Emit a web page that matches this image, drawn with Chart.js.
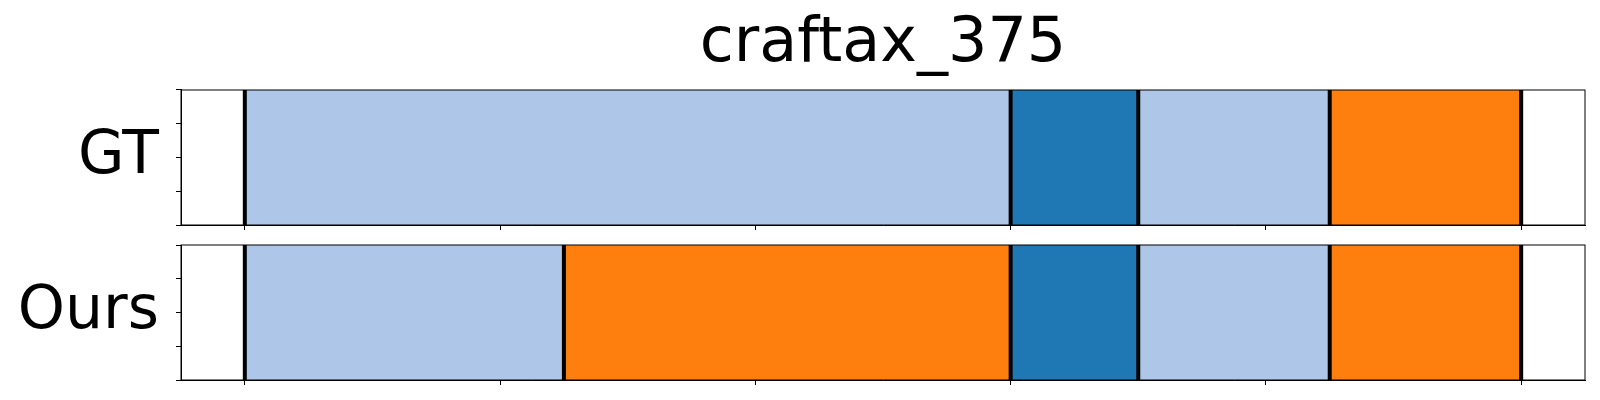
<!DOCTYPE html>
<html>
<head>
<meta charset="utf-8">
<script src="https://cdn.jsdelivr.net/npm/chart.js@4/dist/chart.umd.min.js"></script>
<style>
  body { margin: 0; background: #fff; }
  .row { position: relative; width: 1600px; }
</style>
</head>
<body>
<div class="row" style="height:240px"><canvas id="gt-chart"></canvas></div>
<div class="row" style="height:160px"><canvas id="ours-chart"></canvas></div>
<script>
const chartTitle = 'craftax_375';
const rowLabels = ['GT', 'Ours'];
// segment classes and their lengths, in time steps
const gtClasses = [1, 0, 1, 2];
const gtLengths = [12, 2, 3, 3];
const oursClasses = [1, 2, 0, 1, 2];
const oursLengths = [5, 7, 2, 3, 3];
const xTicks = [0, 4, 8, 12, 16, 20];
const yTicks = [0, 0.25, 0.5, 0.75, 1];

const palette = ['#1f77b4', '#aec7e8', '#ff7f0e'];

Chart.defaults.font.family = 'DejaVu Sans';
Chart.defaults.color = '#000';

const boundaryLines = {
    id: 'boundaryLines',
    afterDraw(chart) {
        const ctx = chart.ctx;
        const area = chart.chartArea;
        const xs = chart.scales.x;
        ctx.save();
        ctx.strokeStyle = '#000';
        ctx.lineWidth = 1;
        ctx.strokeRect(area.left, area.top, area.right - area.left, area.bottom - area.top);
        ctx.lineWidth = 4;
        chart.options.plugins.boundaryLines.values.forEach(function(v) {
            const px = xs.getPixelForValue(v);
            ctx.beginPath();
            ctx.moveTo(px, area.top);
            ctx.lineTo(px, area.bottom);
            ctx.stroke();
        });
        ctx.restore();
    }
};

function noPad(scale) {
    scale.paddingTop = 0;
    scale.paddingBottom = 0;
    scale.paddingLeft = 0;
    scale.paddingRight = 0;
}

function segmentChart(id, label, classes, lengths, withTitle, padTop, xHeight) {
    let datasets = [];
    let bounds = [0];
    let total = 0;
    lengths.forEach(function(len, i) {
        total += len;
        bounds.push(total);
        datasets.push({
            data: [len],
            backgroundColor: palette[classes[i]],
            borderWidth: 0,
            barPercentage: 1,
            categoryPercentage: 1,
        });
    });

    new Chart(document.getElementById(id), {
        type: 'bar',
        data: { labels: [label], datasets: datasets },
        plugins: [boundaryLines],
        options: {
            indexAxis: 'y',
            responsive: true,
            maintainAspectRatio: false,
            animation: false,
            layout: { padding: { top: padTop, right: 15, left: 0, bottom: 0 } },
            plugins: {
                legend: { display: false },
                tooltip: { enabled: false },
                title: {
                    display: withTitle,
                    text: chartTitle,
                    fullSize: false,
                    font: { size: 62, weight: 'normal', lineHeight: 1.2 },
                    color: '#000',
                    padding: { top: 8, bottom: 7.6 },
                },
                boundaryLines: { values: bounds },
            },
            scales: {
                x: {
                    type: 'linear',
                    stacked: true,
                    min: -1,
                    max: 21,
                    afterBuildTicks: function(scale) {
                        scale.ticks = xTicks.map(function(v) { return { value: v }; });
                    },
                    afterFit: function(scale) { scale.height = xHeight; noPad(scale); },
                    ticks: { display: false },
                    grid: { drawOnChartArea: false, tickLength: 5, color: '#000', lineWidth: 1 },
                    border: { display: true, color: '#000', width: 1 },
                },
                y: {
                    stacked: true,
                    weight: 1,
                    afterFit: function(scale) { scale.width = 176; noPad(scale); },
                    ticks: { font: { size: 60 }, padding: 17, color: '#000' },
                    grid: { display: false, drawTicks: false },
                    border: { display: false },
                },
                y2: {
                    type: 'linear',
                    axis: 'y',
                    position: 'left',
                    weight: 0,
                    min: 0,
                    max: 1,
                    offset: false,
                    afterBuildTicks: function(scale) {
                        scale.ticks = yTicks.map(function(v) { return { value: v }; });
                    },
                    afterFit: function(scale) { scale.width = 5; noPad(scale); },
                    ticks: { display: false },
                    grid: { offset: false, drawOnChartArea: false, tickLength: 5, color: '#000', lineWidth: 1 },
                    border: { display: true, color: '#000', width: 1 },
                },
            },
        },
    });
}

segmentChart('gt-chart', rowLabels[0], gtClasses, gtLengths, true, 0, 15);
segmentChart('ours-chart', rowLabels[1], oursClasses, oursLengths, false, 5, 20);
</script>
</body>
</html>
